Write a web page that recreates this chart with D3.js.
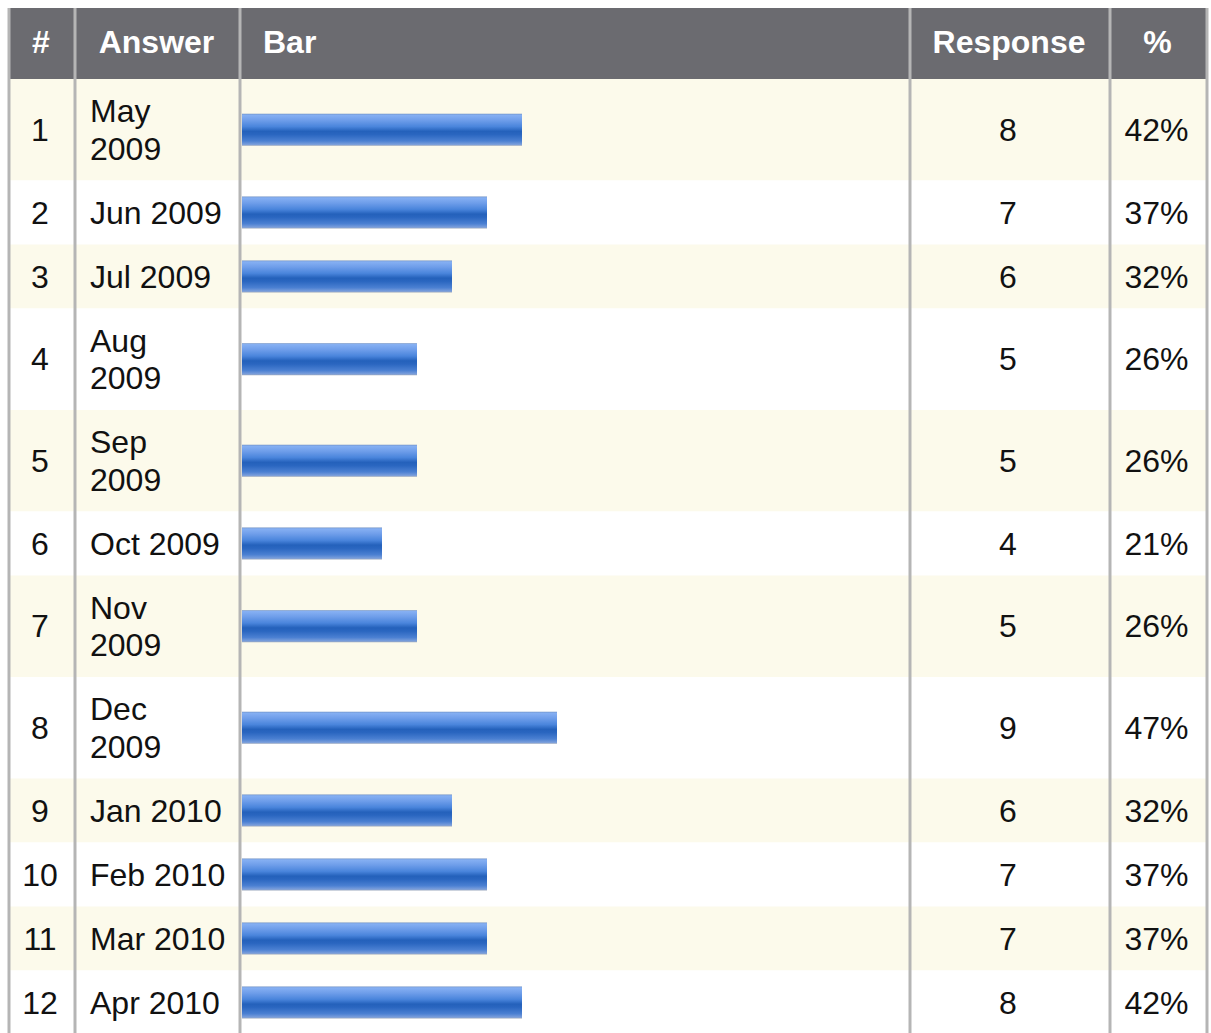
<!DOCTYPE html>
<html>
<head>
<meta charset="utf-8">
<script src="https://cdn.jsdelivr.net/npm/d3@7/dist/d3.min.js"></script>
<style>
  html, body { margin: 0; padding: 0; background: #ffffff; }
  svg { display: block; }
  text { font-family: "Liberation Sans", Arial, Helvetica, sans-serif; }
</style>
</head>
<body>
<svg id="chart" width="1211" height="1033"></svg>
<script>
// Survey results: responses per month
const answers = [
  ["May", "2009"], ["Jun 2009"], ["Jul 2009"], ["Aug", "2009"],
  ["Sep", "2009"], ["Oct 2009"], ["Nov", "2009"], ["Dec", "2009"],
  ["Jan 2010"], ["Feb 2010"], ["Mar 2010"], ["Apr 2010"]
];
const responses = [8, 7, 6, 5, 5, 4, 5, 9, 6, 7, 7, 8];
const percents = [42, 37, 32, 26, 26, 21, 26, 47, 32, 37, 37, 42];
const respondents = 19;
const headers = ["#", "Answer", "Bar", "Response", "%"];

const svg = d3.select("#chart");

// column boundaries (left edges of the five cells, plus the right edge)
const cols = [9, 75, 240, 910, 1110, 1207];
const headTop = 8, headBottom = 79;
const lineH = 37.5, pad = 26.5;
const fontSize = 32;

// row geometry from the number of text lines in each answer
const rows = [];
let y = headBottom;
answers.forEach((a, i) => {
  const h = a.length * lineH + pad;
  rows.push({ i, lines: a, y, h, count: responses[i], pct: percents[i] });
  y += h;
});

// bar gradient
const defs = svg.append("defs");
const grad = defs.append("linearGradient")
  .attr("id", "barGrad").attr("x1", 0).attr("y1", 0).attr("x2", 0).attr("y2", 1);
[
  [0, "#6d8fc4"], [0.04, "#86b0f3"], [0.2, "#6f9eea"], [0.4, "#4a85dc"],
  [0.55, "#2461bb"], [0.65, "#2a66c0"], [0.85, "#4b80d2"], [0.96, "#7a9edb"], [1, "#9aa7bd"]
].forEach(([o, c]) => grad.append("stop").attr("offset", o).attr("stop-color", c));

// header
svg.append("rect")
  .attr("x", cols[0]).attr("y", headTop)
  .attr("width", cols[5] - cols[0]).attr("height", headBottom - headTop)
  .attr("fill", "#6b6b70");

const headAnchor = ["middle", "middle", "start", "middle", "middle"];
svg.selectAll("text.head")
  .data(headers)
  .join("text")
  .attr("class", "head")
  .attr("x", (d, i) => headAnchor[i] === "start" ? cols[i] + 23 : (cols[i] + cols[i + 1]) / 2 - 1)
  .attr("y", 53)
  .attr("text-anchor", (d, i) => headAnchor[i])
  .attr("font-size", fontSize)
  .attr("font-weight", "bold")
  .attr("fill", "#ffffff")
  .text(d => d);

// row backgrounds
svg.selectAll("rect.rowbg")
  .data(rows)
  .join("rect")
  .attr("class", "rowbg")
  .attr("x", cols[0]).attr("y", d => d.y)
  .attr("width", cols[5] - cols[0]).attr("height", d => d.h)
  .attr("fill", d => d.i % 2 === 0 ? "#fcfaeb" : "#ffffff");

// bar scale: share of respondents across the bar column
const barX0 = cols[2] + 2;
const x = d3.scaleLinear().domain([0, respondents]).range([0, cols[3] - barX0 - 3]);
const barH = 32;

const g = svg.append("g");
const row = g.selectAll("g.row").data(rows).join("g").attr("class", "row")
  .attr("transform", d => `translate(0,${d.y + d.h / 2})`);

row.append("text")
  .attr("x", (cols[0] + cols[1]) / 2 - 2)
  .attr("y", 11)
  .attr("text-anchor", "middle")
  .attr("font-size", fontSize)
  .attr("fill", "#111")
  .text(d => d.i + 1);

row.append("text")
  .attr("font-size", fontSize)
  .attr("fill", "#111")
  .selectAll("tspan")
  .data(d => d.lines.map((t, k) => ({ t, k, n: d.lines.length })))
  .join("tspan")
  .attr("x", cols[1] + 15)
  .attr("y", d => (d.k - (d.n - 1) / 2) * lineH + 11)
  .text(d => d.t);

row.append("rect")
  .attr("x", barX0)
  .attr("y", -barH / 2)
  .attr("width", d => x(d.count))
  .attr("height", barH)
  .attr("fill", "url(#barGrad)");

row.append("text")
  .attr("x", (cols[3] + cols[4]) / 2 - 2)
  .attr("y", 11)
  .attr("text-anchor", "middle")
  .attr("font-size", fontSize)
  .attr("fill", "#111")
  .text(d => d.count);

row.append("text")
  .attr("x", (cols[4] + cols[5]) / 2 - 2)
  .attr("y", 11)
  .attr("text-anchor", "middle")
  .attr("font-size", fontSize)
  .attr("fill", "#111")
  .text(d => d.pct + "%");

// vertical cell borders
svg.selectAll("line.vb")
  .data(cols)
  .join("line")
  .attr("class", "vb")
  .attr("x1", d => d).attr("x2", d => d)
  .attr("y1", headTop).attr("y2", 1033)
  .attr("stroke", "#b5b5b5")
  .attr("stroke-width", 3);
</script>
</body>
</html>
